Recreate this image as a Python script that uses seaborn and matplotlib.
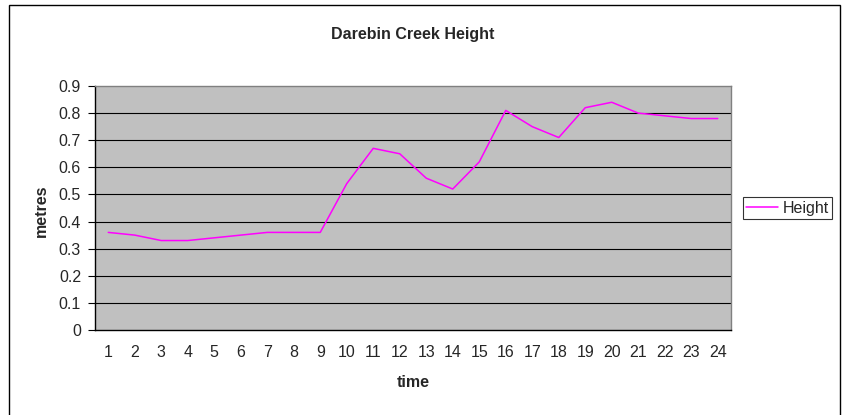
import matplotlib
matplotlib.use('Agg')
import matplotlib.pyplot as plt
import matplotlib.patches as patches
import pandas as pd
import seaborn as sns

# Data
time = list(range(1, 25))
height = [0.36, 0.35, 0.33, 0.33, 0.34, 0.35, 0.36, 0.36, 0.36, 0.54,
          0.67, 0.65, 0.56, 0.52, 0.62, 0.81, 0.75, 0.71, 0.82, 0.84,
          0.80, 0.79, 0.78, 0.78]
y_ticks = [0, 0.1, 0.2, 0.3, 0.4, 0.5, 0.6, 0.7, 0.8, 0.9]
y_labels = ['0', '0.1', '0.2', '0.3', '0.4', '0.5', '0.6', '0.7', '0.8', '0.9']

df = pd.DataFrame({'time': time, 'Height': height})

sns.set_style('white')
plt.rcParams['font.family'] = ['Liberation Sans', 'DejaVu Sans']
fs = 11.5

fig = plt.figure(figsize=(8.43, 4.15), dpi=100)
ax = fig.add_axes([95 / 843, 1 - 330 / 415, (731 - 95) / 843, (330 - 86) / 415])

ax.set_facecolor('#C0C0C0')
sns.lineplot(data=df, x='time', y='Height', color='#FF00FF', lw=1.1, ax=ax, label='Height')

ax.set_xlim(0.5, 24.5)
ax.set_ylim(0, 0.9)
ax.set_yticks(y_ticks)
ax.set_yticklabels(y_labels, fontsize=fs)
ax.set_xticks(time)
ax.set_xticklabels([str(t) for t in time], fontsize=fs)
ax.set_xticks([t + 0.5 for t in range(0, 25)], minor=True)
ax.tick_params(axis='x', which='major', length=0, pad=11)
ax.tick_params(axis='x', which='minor', length=5, width=0.8, direction='out', color='black')
ax.tick_params(axis='y', length=5, width=0.8, direction='out', color='black', pad=5, left=True)

for v in y_ticks[1:-1]:
    ax.axhline(v, color='black', lw=0.8, zorder=1)

ax.spines['left'].set_color('black')
ax.spines['bottom'].set_color('black')
ax.spines['top'].set_color('#808080')
ax.spines['right'].set_color('#808080')
for s in ax.spines.values():
    s.set_linewidth(1)
    s.set_visible(True)

ax.set_xlabel('')
ax.set_ylabel('')
fig.text(413 / 843, 1 - 382 / 415, 'time', fontsize=fs, fontweight='bold', ha='center', va='center')
fig.text(41 / 843, 1 - 211 / 415, 'metres', fontsize=fs, fontweight='bold', ha='center', va='center', rotation=90)
fig.text(413 / 843, 1 - 35 / 415, 'Darebin Creek Height', fontsize=fs, fontweight='bold', ha='center', va='center')

leg = ax.legend(loc='center left', bbox_to_anchor=(743 / 843, 1 - 208 / 415), bbox_transform=fig.transFigure,
                frameon=True, fancybox=False, fontsize=fs, borderpad=0.2, handlelength=2.0,
                handletextpad=0.3, borderaxespad=0)
leg.get_frame().set_edgecolor('black')
leg.get_frame().set_linewidth(0.8)

# chart area border
fig.patches.append(patches.Rectangle((9 / 843, -0.05), (840 - 9) / 843, 1 - 5 / 415 + 0.05,
                                     transform=fig.transFigure, fill=False, edgecolor='black', lw=1))

fig.savefig('out.png', dpi=100)
